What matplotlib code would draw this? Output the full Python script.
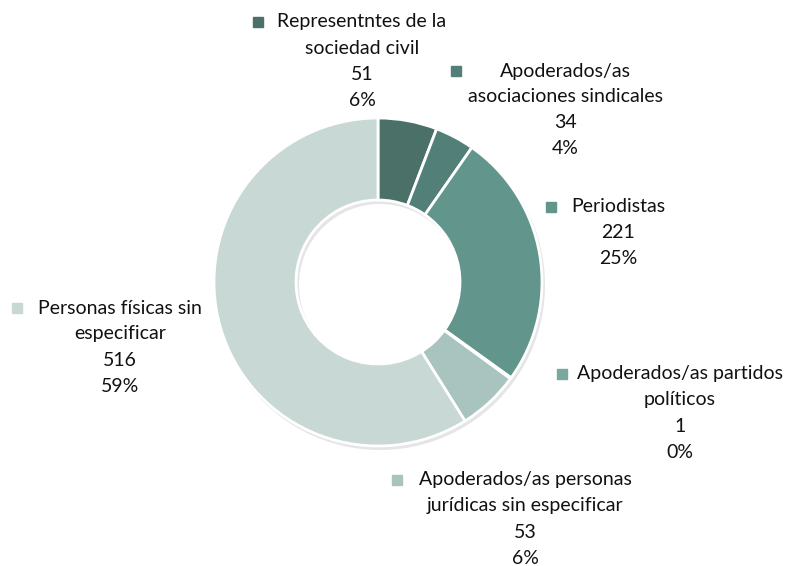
import matplotlib.pyplot as plt
import numpy as np
from matplotlib.patches import Wedge

# Data
categories = [
    "Representntes de la\nsociedad civil",
    "Apoderados/as\nasociaciones sindicales",
    "Periodistas",
    "Apoderados/as partidos\npolíticos",
    "Apoderados/as personas\njurídicas sin especificar",
    "Personas físicas sin\nespecificar",
]
values = [51, 34, 221, 1, 53, 516]
colors = ["#4a7068", "#528078", "#62968c", "#7aa89f", "#a9c4bf", "#c8d8d4"]

# label layout in image pixels: (text centre x, first line y, marker x)
label_pos = [(362, 22, 258), (565, 71, 456), (618, 207, 551),
             (680, 374, 562), (525, 480, 397), (120, 308, 17)]

W, H = 792, 566
fig = plt.figure(figsize=(W / 100, H / 100), dpi=100)
ax = fig.add_axes([0, 0, 1, 1])

cx, cy, r = 378, H - 282, 164

# soft shadow under the ring
ax.add_patch(Wedge((cx + 2, cy - 3), r + 1, 0, 360, width=84,
                   facecolor="#999999", alpha=0.25, edgecolor="none", zorder=0))

ax.pie(values, colors=colors, startangle=90, counterclock=False,
       center=(cx, cy), radius=r,
       wedgeprops=dict(width=82, edgecolor="white", linewidth=2, zorder=1))
ax.set_xlim(0, W)
ax.set_ylim(0, H)
ax.set_aspect("equal")
ax.axis("off")

total = sum(values)
line_h = 26
for cat, val, col, (tx, ty, mx) in zip(categories, values, colors, label_pos):
    lines = cat.split("\n") + [str(val), f"{round(val / total * 100):.0f}%"]
    for i, ln in enumerate(lines):
        ax.text(tx, H - (ty + i * line_h), ln, ha="center", va="center",
                fontsize=14, family="Lato", color="#111111")
    ax.plot(mx, H - ty, marker="s", markersize=7, color=col, linestyle="none")

fig.savefig("out.png", dpi=100)
